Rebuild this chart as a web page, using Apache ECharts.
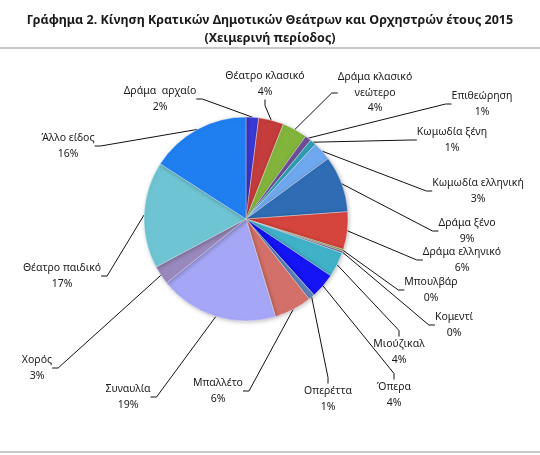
<!DOCTYPE html>
<html>
<head>
<meta charset="utf-8">
<script src="https://cdn.jsdelivr.net/npm/echarts@6/dist/echarts.min.js"></script>
<style>
html,body{margin:0;padding:0;background:#fff;}
#chart{width:540px;height:455px;}
</style>
</head>
<body>
<div id="chart"></div>
<script>
// Categories (clockwise from 12 o'clock)
const categories = [
  'Δράμα  αρχαίο', 'Θέατρο κλασικό', 'Δράμα κλασικό\nνεώτερο', 'Επιθεώρηση',
  'Κωμωδία ξένη', 'Κωμωδία ελληνική', 'Δράμα ξένο', 'Δράμα ελληνικό',
  'Μπουλβάρ', 'Κομεντί', 'Μιούζικαλ', 'Όπερα', 'Οπερέττα', 'Μπαλλέτο',
  'Συναυλία', 'Χορός', 'Θέατρο παιδικό', 'Άλλο είδος'
];
// Shares (percent)
const shares = [2, 4, 4, 1, 1, 3, 9, 6, 0.3, 0.3, 4, 4, 1, 6, 19, 3, 17, 16];
// Slice colours
const sliceColors = [
  '#3a3ad6', '#c43c3c', '#82b43c', '#6e4e98', '#2f9fb4', '#6fa8ee',
  '#2f6cb4', '#d6443e', '#8aa64a', '#7a5a9c', '#40b2c8', '#1414f4',
  '#5f86c0', '#d4706a', '#a6a6f6', '#9888bc', '#6ec4d2', '#1f7ef0'
];
// Label block centres (layout only)
const labelSpots = [
  [160, 99], [265, 84], [375, 93], [482, 104], [452, 140], [478, 191],
  [467, 231], [462, 260], [431, 290], [454, 325], [399, 352], [394, 395],
  [328, 399], [218, 391], [128, 397], [37, 368], [62, 276], [68, 146]
];

const total = shares.reduce((a, b) => a + b, 0);
const chart = echarts.init(document.getElementById('chart'));
chart.setOption({
  animation: false,
  title: {
    text: 'Γράφημα 2. Κίνηση Κρατικών Δημοτικών Θεάτρων και Ορχηστρών έτους 2015\n(Χειμερινή περίοδος)',
    left: 'center',
    top: 6,
    textStyle: {
      fontFamily: 'Noto Sans', fontSize: 12.5, fontWeight: 'bold',
      color: '#1a1a1a', lineHeight: 18, align: 'center'
    }
  },
  graphic: [
    { type: 'line', shape: { x1: 0, y1: 48, x2: 540, y2: 48 }, style: { stroke: '#b4b4b4', lineWidth: 1.5 } },
    { type: 'line', shape: { x1: 0, y1: 452, x2: 540, y2: 452 }, style: { stroke: '#b4b4b4', lineWidth: 1.5 } }
  ],
  series: [{
    type: 'pie',
    center: [246, 219],
    radius: 102,
    startAngle: 90,
    clockwise: true,
    avoidLabelOverlap: false,
    data: categories.map((c, i) => ({
      name: c,
      value: shares[i],
      itemStyle: { color: sliceColors[i] }
    })),
    itemStyle: {
      borderColor: 'rgba(255,255,255,0.45)',
      borderWidth: 0.8,
      shadowBlur: 4,
      shadowColor: 'rgba(0,0,0,0.25)',
      shadowOffsetX: 1,
      shadowOffsetY: 1
    },
    label: {
      show: true,
      formatter: p => p.name + '\n' + Math.round(p.value / total * 100) + '%',
      fontFamily: 'Noto Sans',
      fontSize: 10.5,
      color: '#1a1a1a',
      lineHeight: 15.5,
      align: 'center'
    },
    labelLine: {
      show: true,
      length: 10,
      length2: 6,
      lineStyle: { color: '#111', width: 1 }
    },
    labelLayout: p => ({
      x: labelSpots[p.dataIndex][0],
      y: labelSpots[p.dataIndex][1],
      align: 'center',
      verticalAlign: 'middle'
    })
  }]
});
</script>
</body>
</html>
